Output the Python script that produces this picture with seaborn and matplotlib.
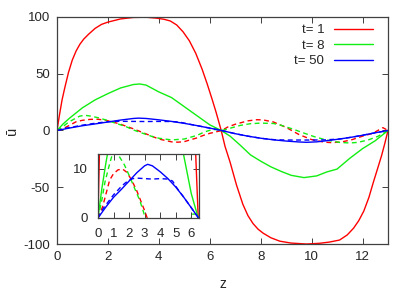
import matplotlib
matplotlib.use("Agg")
import matplotlib.pyplot as plt
import seaborn as sns

sns.set_style("ticks")
plt.rcParams['font.family'] = ['Liberation Sans', 'DejaVu Sans']
plt.rcParams['axes.unicode_minus'] = False
plt.rcParams['font.size'] = 9.5

# t = 1
z_red = [0, 0.1, 0.2, 0.3, 0.45, 0.6, 0.75, 0.9, 1.05, 1.25, 1.5, 1.75, 2.0, 2.5, 3.0,
         3.5, 3.9, 4.2, 4.45, 4.7, 4.95, 5.2, 5.45, 5.7, 5.9, 6.1, 6.25, 6.35, 6.45,
         6.6, 6.8, 7.05, 7.3, 7.5, 7.7, 7.9, 8.1, 8.4, 8.75, 9.2, 9.8, 10.3, 10.7,
         11.1, 11.4, 11.65, 11.85, 12.05, 12.25, 12.42, 12.6, 12.75, 12.88, 13.0]
u_red = [0, 14, 27, 37, 51, 62, 70, 76, 80.5, 85, 90, 93.5, 95.5, 98.3, 99.6,
         99.8, 99, 98, 96.5, 93, 87, 79, 68, 54, 41, 27, 16, 8, 0,
         -14, -28, -48, -65, -75, -82, -87, -90.5, -94.5, -97.5, -99.2, -100, -99.4, -98.3,
         -96.5, -92, -86, -79.5, -71, -59, -46, -33, -22, -11, 0]
z_red_d = [0, 0.3, 0.75, 1.0, 1.3, 1.6, 1.85, 2.15, 2.5, 3.0, 3.5, 4.0, 4.5, 4.75, 5.0,
           5.5, 5.75, 6.0, 6.47, 6.7, 7.0, 7.5, 7.85, 8.1, 8.5, 9.0, 9.5, 10.0, 10.5,
           10.8, 11.2, 11.6, 12.0, 12.4, 12.6, 12.8, 13.0]
u_red_d = [0, 2.3, 7.7, 9, 9.8, 9.9, 9.3, 7.8, 5.5, 1.5, -3, -7.5, -10, -10.3, -9.8,
           -6.5, -4.3, -2.5, 0, 3, 5.5, 8.5, 9.5, 9.3, 7.5, 2.7, -3.5, -8, -10.3,
           -10.7, -10, -8, -5, -2.5, 0, 2.5, 0]

# t = 8
z_grn = [0, 0.25, 0.5, 0.75, 1.0, 1.5, 2.0, 2.5, 3.0, 3.25, 3.5, 4.0, 4.5, 5.0, 5.5, 6.0,
         6.45, 6.8, 7.2, 7.6, 8.0, 8.4, 8.8, 9.2, 9.7, 10.2, 10.6, 11.0, 11.5, 12.0, 12.5, 13.0]
u_grn = [0, 6, 11, 15.5, 20, 27, 32.5, 37.5, 40.5, 41, 40, 34, 29, 21, 13, 5,
         0, -5, -13, -21.5, -27, -32, -36, -39.5, -41.5, -40, -36.5, -34, -24.5, -16, -9, 0]
z_grn_d = [0, 0.25, 0.45, 0.75, 0.9, 1.1, 1.35, 1.7, 2.0, 2.4, 2.7, 3.0, 3.5, 3.75, 4.0,
           4.5, 5.0, 5.5, 5.8, 6.1, 6.3, 6.47, 6.8, 7.2, 7.6, 8.0, 8.5, 8.8, 9.3, 9.6,
           10.1, 10.6, 11.1, 11.5, 11.8, 12.2, 12.6, 12.85, 13.0]
u_grn_d = [0, 3.7, 7.3, 11, 12.7, 13.4, 12.6, 10.8, 8.7, 5.7, 3.5, 0.5, -3.5, -5.4, -6.8,
           -8.3, -7.5, -4.3, -1.2, 0.8, 0.8, 0, 2, 4.5, 6, 6.5, 6.2, 4.6, 1, -1.5,
           -5.4, -8.5, -10.5, -11, -10.5, -8.5, -5.2, -2, 0]

# t = 50
z_blu = [0, 0.5, 1.0, 1.5, 2.0, 2.5, 3.0, 3.2, 3.5, 4.0, 4.5, 5.0, 5.5, 6.0, 6.47,
         7.0, 7.5, 8.0, 8.5, 9.0, 9.5, 9.8, 10.2, 10.6, 11.1, 11.6, 12.0, 12.5, 13.0]
u_blu = [0, 2.2, 4.2, 5.8, 7.5, 9.2, 10.6, 10.9, 10.6, 9.4, 8.0, 6.3, 4.3, 2.1, 0,
         -2.8, -5, -6.8, -8.2, -9.3, -10.1, -10.4, -10, -9, -7.5, -5.8, -4.2, -2, 0]
z_blu_d = [0, 0.35, 1.0, 1.5, 1.75, 2.0, 2.25, 2.5, 3.0, 3.5, 4.0, 4.5, 4.8, 5.1, 5.5,
           6.0, 6.47, 7.0, 7.5, 8.0, 8.3, 8.6, 9.0, 9.5, 10.0, 10.5, 11.1, 11.6, 12.0,
           12.5, 13.0]
u_blu_d = [0, 2, 4.7, 6.4, 7.1, 7.7, 8.0, 8.1, 8.0, 7.9, 8.0, 7.9, 7.5, 6.0, 4.3,
           2.1, 0, -2.8, -5, -6.8, -7.6, -8.2, -8.4, -8.4, -8.4, -8.3, -7.5, -5.8, -4.2,
           -2, 0]

series = [
    ('t= 1', '#ff0000', z_red, u_red, z_red_d, u_red_d),
    ('t= 8', '#11ee11', z_grn, u_grn, z_grn_d, u_grn_d),
    ('t= 50', '#0000ff', z_blu, u_blu, z_blu_d, u_blu_d),
]

frame = '#404040'
fig = plt.figure(figsize=(4.15, 2.91), dpi=100)
ax = fig.add_axes([0.1373, 0.1615, 0.7976, 0.7801])
ins = fig.add_axes([0.2361, 0.2509, 0.2434, 0.2199])

handles = []
for lab, c, zs, us, zd, ud in series:
    for a in (ax, ins):
        sns.lineplot(x=zs, y=us, color=c, lw=1.0, ax=a)
        line = a.get_lines()[-1]
        if a is ax:
            handles.append(line)
        sns.lineplot(x=zd, y=ud, color=c, lw=1.0, ax=a, linestyle=(0, (3.5, 2.5)))

ax.set_xlim(0, 13)
ax.set_ylim(-100, 100)
ax.set_xticks(range(0, 13, 2))
ax.set_yticks([-100, -50, 0, 50, 100])
ax.set_xlabel('z', fontsize=10, labelpad=10)
ax.set_ylabel('ū', fontsize=10.5, labelpad=3)

ins.set_xlim(0, 6.5)
ins.set_ylim(0, 13)
ins.set_xticks(range(0, 7))
ins.set_yticks([0, 10])

for a, pad in ((ax, 5), (ins, 7.5)):
    a.tick_params(direction='in', top=True, right=True, length=4, width=0.7,
                  color=frame, pad=pad, labelsize=9.5)
    for s in a.spines.values():
        s.set_color(frame)
        s.set_linewidth(0.9)

leg = ax.legend(handles=handles, labels=[s[0] for s in series], loc='upper right',
                bbox_to_anchor=(373 / 415, 1 - 24 / 291), bbox_transform=fig.transFigure,
                frameon=False, markerfirst=False, handlelength=2.95, handletextpad=0.75,
                labelspacing=0.25, borderpad=0, borderaxespad=0, fontsize=9.5)
for col in leg._legend_handle_box.get_children():
    col.align = 'right'

fig.savefig('out.png', dpi=100)
